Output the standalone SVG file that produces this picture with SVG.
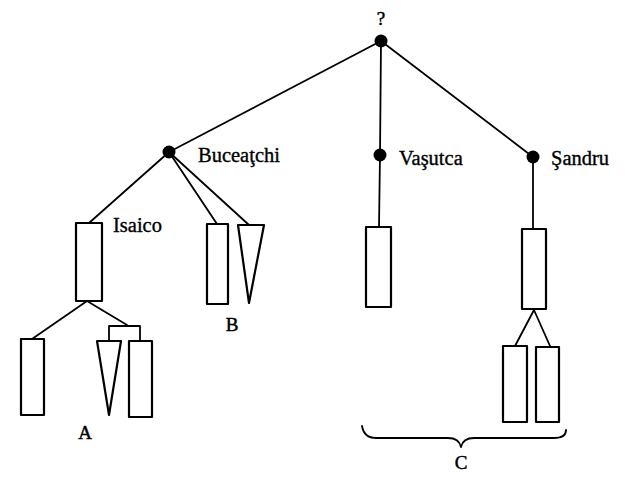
<svg xmlns="http://www.w3.org/2000/svg" width="631" height="484" viewBox="0 0 631 484">
  <style>
    .edge { stroke: #000; stroke-width: 1.8; fill: none; stroke-linecap: round; stroke-linejoin: round; }
    .box { stroke: #000; stroke-width: 2.2; fill: #fff; stroke-linejoin: round; }
    .dot { fill: #000; }
    .lbl { font-family: "Liberation Serif", "Times New Roman", serif; font-size: 20.5px; fill: #000; stroke: #000; stroke-width: 0.35; }
    .mark { font-family: "Liberation Serif", "Times New Roman", serif; font-size: 19px; fill: #000; stroke: #000; stroke-width: 0.45; text-anchor: middle; }
  </style>
  <rect width="631" height="484" fill="#fff"/>

  <!-- connectors -->
  <g id="connectors">
    <line class="edge" x1="381" y1="41" x2="169" y2="152"/>
    <line class="edge" x1="381" y1="41" x2="380" y2="155"/>
    <line class="edge" x1="381" y1="41" x2="533" y2="157"/>
    <line class="edge" x1="169" y1="152" x2="89" y2="223"/>
    <line class="edge" x1="169" y1="152" x2="217" y2="224"/>
    <line class="edge" x1="169" y1="152" x2="249" y2="225"/>
    <line class="edge" x1="380" y1="155" x2="379" y2="227"/>
    <line class="edge" x1="533" y1="157" x2="533" y2="229"/>
    <line class="edge" x1="87" y1="301" x2="32" y2="339"/>
    <line class="edge" x1="87" y1="301" x2="127" y2="325"/>
    <polyline class="edge" points="109,340 109,326 140,326 140,341"/>
    <line class="edge" x1="534" y1="310" x2="515" y2="346"/>
    <line class="edge" x1="534" y1="310" x2="550" y2="346"/>
    <!-- brace under Vasutca and Sandru -->
    <path class="edge" d="M362,426 Q364,438 376,438 L448,438 Q459,438 461,447 Q463,438 474,438 L554,438 Q566,438 566,430"/>
  </g>

  <!-- root -->
  <g id="root">
    <circle class="dot" cx="381" cy="41" r="6.5"/>
    <text class="mark" x="381" y="25">?</text>
  </g>

  <g id="buceatchi">
    <circle class="dot" cx="169" cy="152" r="6.5"/>
    <text class="lbl" x="198" y="162">Buceaţchi</text>
  </g>

  <g id="vasutca">
    <circle class="dot" cx="380" cy="155" r="6.5"/>
    <text class="lbl" x="399" y="165">Vaşutca</text>
  </g>

  <g id="sandru">
    <circle class="dot" cx="533" cy="157" r="6.5"/>
    <text class="lbl" x="551" y="165">Şandru</text>
  </g>

  <g id="isaico">
    <rect class="box" x="76" y="223" width="26" height="78"/>
    <text class="lbl" x="113" y="232">Isaico</text>
  </g>

  <!-- group A -->
  <g id="a-box-left">
    <rect class="box" x="21" y="339" width="23" height="76"/>
  </g>
  <g id="a-wedge">
    <polygon class="box" points="97,341 121,341 109,415"/>
  </g>
  <g id="a-box-right">
    <rect class="box" x="129" y="341" width="23" height="76"/>
  </g>
  <g id="label-a">
    <text class="mark" x="85" y="439">A</text>
  </g>

  <!-- group B -->
  <g id="b-box">
    <rect class="box" x="207" y="224" width="21" height="80"/>
  </g>
  <g id="b-wedge">
    <polygon class="box" points="238,225 264,225 249,303"/>
  </g>
  <g id="label-b">
    <text class="mark" x="232" y="331">B</text>
  </g>

  <!-- Vasutca and Sandru lines -->
  <g id="vasutca-box">
    <rect class="box" x="366" y="227" width="25" height="80"/>
  </g>
  <g id="sandru-box">
    <rect class="box" x="522" y="229" width="24" height="80"/>
  </g>
  <g id="c-box-left">
    <rect class="box" x="503" y="346" width="24" height="76"/>
  </g>
  <g id="c-box-right">
    <rect class="box" x="536" y="347" width="23" height="75"/>
  </g>
  <g id="label-c">
    <text class="mark" x="461" y="469">C</text>
  </g>
</svg>
